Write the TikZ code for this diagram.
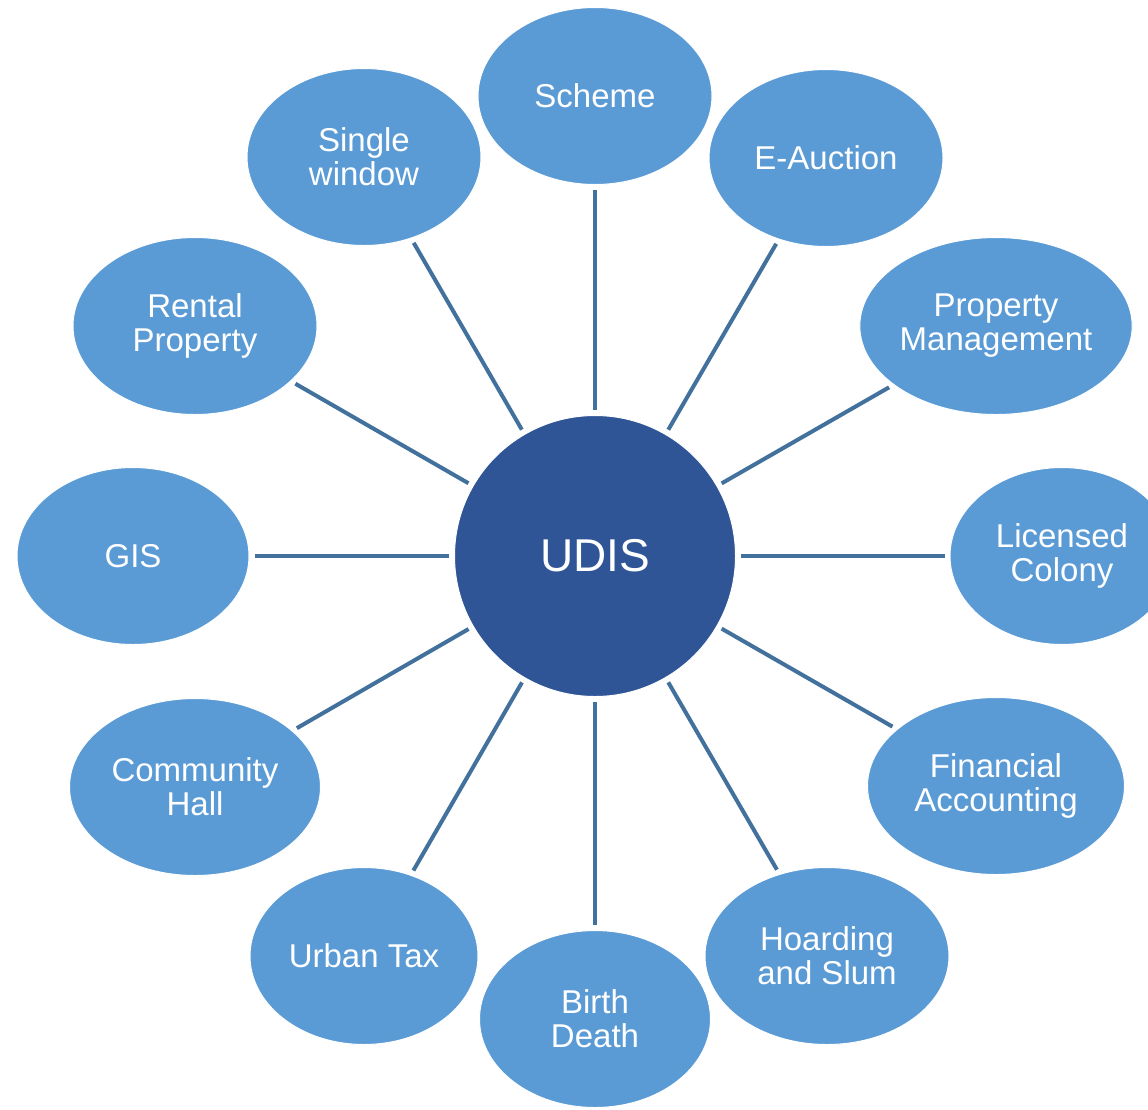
\documentclass[tikz,border=0pt]{standalone}
\usepackage{fontspec}
\setmainfont{Liberation Sans}
\usetikzlibrary{shapes.geometric}
\definecolor{outerblue}{RGB}{91,155,213}
\definecolor{hubblue}{RGB}{47,85,151}
\definecolor{linkblue}{RGB}{65,113,156}
\tikzset{
  leaf/.style={ellipse, fill=outerblue, draw=white, line width=1pt, inner sep=0pt,
    minimum height=177pt, text=white, align=center,
    font=\fontsize{33}{34}\selectfont},
  hub/.style={circle, fill=hubblue, draw=white, line width=1pt, inner sep=0pt,
    minimum size=281pt, text=white, font=\fontsize{46}{48}\selectfont},
  link/.style={draw=linkblue, line width=4pt, shorten <=5pt, shorten >=5pt}
}
\begin{document}
\begin{tikzpicture}[x=1pt,y=-1pt]
\useasboundingbox (0,0) rectangle (1148,1109);
\clip (0,0) rectangle (1148,1109);
\node[hub] (c) at (595,556) {UDIS};
\node[leaf, minimum width=234pt] (sch) at (595,96) {Scheme};
\node[leaf, minimum width=234pt] (eau) at (826,158) {E-Auction};
\node[leaf, minimum width=265pt] (pm) at (996,326) {Property\\Management};
\node[leaf, minimum width=224pt] (lc) at (1062,556) {Licensed\\Colony};
\node[leaf, minimum width=257pt] (fa) at (996,786) {Financial\\Accounting};
\node[leaf, minimum width=244pt] (hs) at (827,956) {Hoarding\\and Slum};
\node[leaf, minimum width=231pt] (bd) at (595,1019) {Birth\\Death};
\node[leaf, minimum width=228pt] (ut) at (364,956) {Urban Tax};
\node[leaf, minimum width=251pt] (ch) at (195,787) {Community\\Hall};
\node[leaf, minimum width=232pt] (gis) at (133,556) {GIS};
\node[leaf, minimum width=244pt] (rp) at (195,326) {Rental\\Property};
\node[leaf, minimum width=234pt] (sw) at (364,157) {Single\\window};
\foreach \n in {sch,eau,pm,lc,fa,hs,bd,ut,ch,gis,rp,sw}
  \draw[link] (c) -- (\n);
\end{tikzpicture}
\end{document}
